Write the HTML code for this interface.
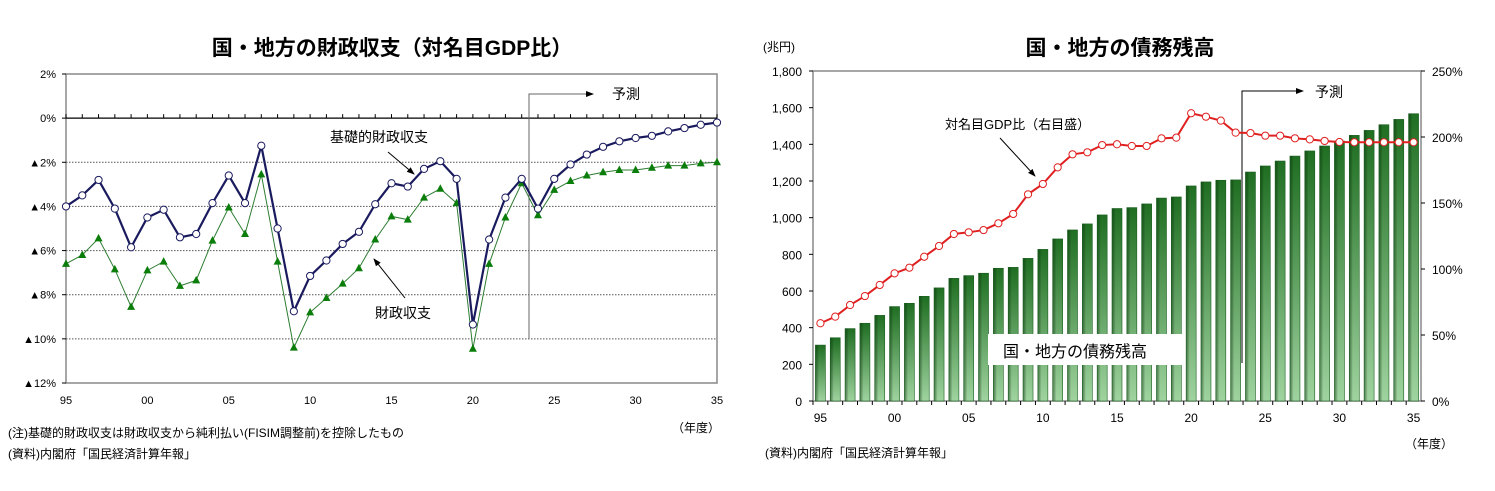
<!DOCTYPE html>
<html><head><meta charset="utf-8">
<style>
body{margin:0;background:#fff;}
svg{display:block;font-family:"Liberation Sans","Noto Sans CJK JP",sans-serif;}
</style></head>
<body>
<svg id="c" width="1495" height="491" viewBox="0 0 1495 491">
<defs>
<linearGradient id="bg" x1="0" y1="0" x2="0" y2="1">
<stop offset="0" stop-color="#1f6e22"/><stop offset="1" stop-color="#9fd39f"/>
</linearGradient>
<linearGradient id="bh" x1="0" y1="0" x2="1" y2="0">
<stop offset="0" stop-color="#0d4a10" stop-opacity="0.55"/><stop offset="0.35" stop-color="#000" stop-opacity="0"/>
</linearGradient>
<marker id="ah" markerWidth="8" markerHeight="8" refX="7" refY="4" orient="auto"><path d="M0,1 L8,4 L0,7 z" fill="#000"/></marker>
</defs>
<g id="L"></g><g id="R"></g>
</svg>
<script>
const years = [];
for (let y = 1995; y <= 2035; y++) years.push(y);
const primaryBalance = [-4.0,-3.5,-2.8,-4.1,-5.85,-4.5,-4.15,-5.4,-5.25,-3.85,-2.6,-3.85,-1.25,-5.0,-8.75,-7.15,-6.45,-5.7,-5.15,-3.9,-2.95,-3.1,-2.3,-1.95,-2.75,-9.35,-5.5,-3.6,-2.75,-4.1,-2.75,-2.1,-1.65,-1.3,-1.05,-0.9,-0.8,-0.6,-0.45,-0.3,-0.2];
const fiscalBalance = [-6.6,-6.2,-5.45,-6.85,-8.55,-6.9,-6.5,-7.6,-7.35,-5.55,-4.05,-5.25,-2.55,-6.5,-10.4,-8.8,-8.15,-7.5,-6.8,-5.5,-4.45,-4.6,-3.6,-3.2,-3.85,-10.45,-6.6,-4.5,-2.95,-4.4,-3.25,-2.85,-2.6,-2.45,-2.35,-2.35,-2.25,-2.15,-2.15,-2.05,-2.0];
const debtOutstanding = [305,345,395,424,467,515,533,571,617,669,684,697,724,729,778,827,884,933,966,1015,1050,1055,1075,1107,1113,1173,1195,1204,1206,1249,1282,1309,1336,1364,1391,1418,1449,1476,1507,1536,1567];
const debtRatio = [58.9,63.9,72.7,79.5,87.9,96.7,101,109.3,117.4,126.5,127.8,129.5,134.6,141.7,156.6,164.4,177,186.9,188.4,193.9,194.5,193.2,193.2,199,199.5,218,215.4,212.4,203.3,203,201,201,199,198.2,197,196.2,196,196,196,196,196];
const leftTicks = [2,0,-2,-4,-6,-8,-10,-12];
const leftTickLabels = ["2%","0%","▲2%","▲4%","▲6%","▲8%","▲10%","▲12%"];
const xTickLabels = ["95","00","05","10","15","20","25","30","35"];
const debtTicks = [0,200,400,600,800,1000,1200,1400,1600,1800];
const ratioTicks = [0,50,100,150,200,250];

const NS="http://www.w3.org/2000/svg";
function mk(parent,tag,attrs,name,text){
  const e=document.createElementNS(NS,tag);
  for(const k in attrs) e.setAttribute(k,attrs[k]);
  
  
  if(text!==undefined) e.textContent=text;
  parent.appendChild(e); return e;
}
const L=document.getElementById('L'), R=document.getElementById('R');

// ---------- Left chart ----------
const lx0=66,lx1=717,ly0=74,ly1=383;
const lX=i=>lx0+(lx1-lx0)*i/(years.length-1);
const lY=v=>ly0+(2-v)*(ly1-ly0)/14;
mk(L,'text',{x:392,y:55,'text-anchor':'middle','font-size':21,'font-weight':'bold'},'left-chart-title','国・地方の財政収支（対名目GDP比）');
mk(L,'rect',{x:lx0,y:ly0,width:lx1-lx0,height:ly1-ly0,fill:'none',stroke:'#888','stroke-width':1.5},'left-plot-border');
leftTicks.forEach((t,k)=>{
  const y=lY(t);
  if(t<0&&t>-12) mk(L,'line',{x1:lx0,x2:lx1,y1:y,y2:y,stroke:'#555','stroke-dasharray':'1.5,1.5'},'left-gridline');
  mk(L,'line',{x1:lx0-4,x2:lx0,y1:y,y2:y,stroke:'#000'},'left-y-tick');
  mk(L,'text',{x:56,y:y+4,'text-anchor':'end','font-size':11},'left-y-tick-label',leftTickLabels[k]);
});
mk(L,'line',{x1:lx0,x2:lx1,y1:lY(0),y2:lY(0),stroke:'#000','stroke-width':1.2},'left-zero-line');
years.forEach((yr,i)=>{mk(L,'line',{x1:lX(i),x2:lX(i),y1:lY(0)-4,y2:lY(0),stroke:'#000'},'left-x-tick');});
xTickLabels.forEach((t,k)=>{mk(L,'text',{x:lX(k*5),y:404,'text-anchor':'middle','font-size':11},'left-x-tick-label',t);});
mk(L,'polyline',{points:`529,339 529,94 593,94`,fill:'none',stroke:'#666','marker-end':'url(#ah)'},'left-forecast-marker');
mk(L,'text',{x:612,y:99,'font-size':14},'left-forecast-label','予測');
mk(L,'polyline',{points:fiscalBalance.map((v,i)=>lX(i)+','+lY(v)).join(' '),fill:'none',stroke:'#2e7d32','stroke-width':1},'fiscal-balance-line');
fiscalBalance.forEach((v,i)=>{const x=lX(i),y=lY(v);
  mk(L,'path',{d:`M${x},${y-4.5} L${x+4},${y+3} L${x-4},${y+3}Z`,fill:'#0a7d0a'},'fiscal-balance-point');});
mk(L,'polyline',{points:primaryBalance.map((v,i)=>lX(i)+','+lY(v)).join(' '),fill:'none',stroke:'#1a1a5e','stroke-width':2.2},'primary-balance-line');
primaryBalance.forEach((v,i)=>{mk(L,'circle',{cx:lX(i),cy:lY(v),r:3.6,fill:'#fff',stroke:'#1a1a5e','stroke-width':1},'primary-balance-point');});
mk(L,'text',{x:330,y:142,'font-size':14},'primary-balance-label','基礎的財政収支');
mk(L,'line',{x1:388,y1:152,x2:414,y2:174,stroke:'#000','marker-end':'url(#ah)'},'primary-balance-arrow');
mk(L,'text',{x:375,y:318,'font-size':14},'fiscal-balance-label','財政収支');
mk(L,'line',{x1:405,y1:298,x2:374,y2:259,stroke:'#000','marker-end':'url(#ah)'},'fiscal-balance-arrow');
mk(L,'text',{x:672,y:432,'font-size':12},'left-x-axis-unit','（年度）');
mk(L,'text',{x:8,y:437,'font-size':12},'left-note','(注)基礎的財政収支は財政収支から純利払い(FISIM調整前)を控除したもの');
mk(L,'text',{x:8,y:458,'font-size':12},'left-source','(資料)内閣府「国民経済計算年報」');

// ---------- Right chart ----------
const rx0=813,rx1=1421,ry0=71,ry1=401;
const cw=(rx1-rx0)/years.length;
const rX=i=>rx0+cw*(i+0.5);
const dY=v=>ry1-v*(ry1-ry0)/1800;
const pY=v=>ry1-v*(ry1-ry0)/250;
mk(R,'text',{x:1120,y:55,'text-anchor':'middle','font-size':21,'font-weight':'bold'},'right-chart-title','国・地方の債務残高');
mk(R,'text',{x:763,y:51,'font-size':12},'left-y-axis-unit','(兆円)');
mk(R,'rect',{x:rx0,y:ry0,width:rx1-rx0,height:ry1-ry0,fill:'none',stroke:'#888','stroke-width':1.5},'right-plot-border');
debtTicks.forEach(t=>{mk(R,'text',{x:802,y:dY(t)+5,'text-anchor':'end','font-size':12},'debt-y-tick-label',t.toLocaleString('en-US'));
  mk(R,'line',{x1:rx0-4,x2:rx0,y1:dY(t),y2:dY(t),stroke:'#000'},'debt-y-tick');});
ratioTicks.forEach(t=>{mk(R,'text',{x:1432,y:pY(t)+5,'font-size':12},'ratio-y-tick-label',t+'%');
  mk(R,'line',{x1:rx1,x2:rx1+4,y1:pY(t),y2:pY(t),stroke:'#000'},'ratio-y-tick');});
years.forEach((yr,i)=>{mk(R,'line',{x1:rx0+cw*i,x2:rx0+cw*i,y1:ry1,y2:ry1+4,stroke:'#000'},'right-x-tick');});
xTickLabels.forEach((t,k)=>{mk(R,'text',{x:rX(k*5),y:422,'text-anchor':'middle','font-size':12},'right-x-tick-label',t);});
debtOutstanding.forEach((v,i)=>{
  const x=rX(i)-5,y=dY(v),h=ry1-y;
  mk(R,'rect',{x:x,y:y,width:10,height:h,fill:'url(#bg)',stroke:'#1b5e20','stroke-width':0.6},'debt-bar');
  mk(R,'rect',{x:x,y:y,width:10,height:h,fill:'url(#bh)'},'debt-bar-shade');
});
mk(R,'polyline',{points:`1242,363 1242,91 1303,91`,fill:'none',stroke:'#000','marker-end':'url(#ah)'},'right-forecast-marker');
mk(R,'text',{x:1315,y:97,'font-size':14},'right-forecast-label','予測');
mk(R,'polyline',{points:debtRatio.map((v,i)=>rX(i)+','+pY(v)).join(' '),fill:'none',stroke:'#e02020','stroke-width':2},'debt-ratio-line');
debtRatio.forEach((v,i)=>{mk(R,'circle',{cx:rX(i),cy:pY(v),r:3.6,fill:'#fff',stroke:'#e02020','stroke-width':1},'debt-ratio-point');});
mk(R,'text',{x:945,y:129,'font-size':13},'debt-ratio-label','対名目GDP比（右目盛）');
mk(R,'line',{x1:1000,y1:138,x2:1035,y2:176,stroke:'#000','marker-end':'url(#ah)'},'debt-ratio-arrow');
mk(R,'rect',{x:988,y:334,width:194,height:31,fill:'#fff'},'debt-label-box');
mk(R,'text',{x:1003,y:357,'font-size':16},'debt-label','国・地方の債務残高');
mk(R,'text',{x:1405,y:448,'font-size':12},'right-x-axis-unit','（年度）');
mk(R,'text',{x:765,y:457,'font-size':12},'right-source','(資料)内閣府「国民経済計算年報」');
</script>
</body></html>
